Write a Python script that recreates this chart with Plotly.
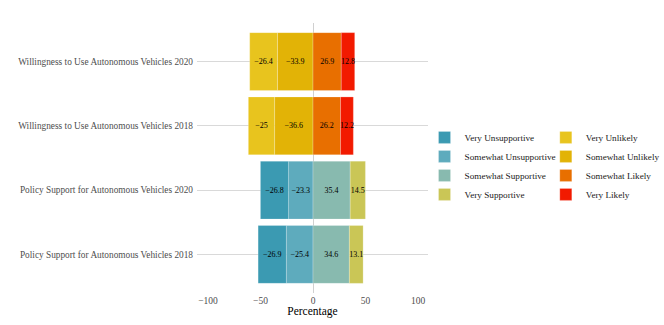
import plotly.graph_objects as go

# categories on the y axis (bottom to top)
rows = ['Policy Support for Autonomous Vehicles 2018',
        'Policy Support for Autonomous Vehicles 2020',
        'Willingness to Use Autonomous Vehicles 2018',
        'Willingness to Use Autonomous Vehicles 2020']
policy_rows = rows[:2]
will_rows = rows[2:]

# percentages (negative side = unsupportive / unlikely)
very_unsupportive = [-26.9, -26.8]
somewhat_unsupportive = [-25.4, -23.3]
somewhat_supportive = [34.6, 35.4]
very_supportive = [13.1, 14.5]

very_unlikely = [-25, -26.4]
somewhat_unlikely = [-36.6, -33.9]
somewhat_likely = [26.2, 26.9]
very_likely = [12.2, 12.8]

# trace order = stacking order (inner segment first), rank = legend order
series = [
    ('Somewhat Unsupportive', policy_rows, somewhat_unsupportive, '#5EABBD', 'legend', 2),
    ('Very Unsupportive', policy_rows, very_unsupportive, '#3B9AB2', 'legend', 1),
    ('Somewhat Supportive', policy_rows, somewhat_supportive, '#88BAAF', 'legend', 3),
    ('Very Supportive', policy_rows, very_supportive, '#CAC656', 'legend', 4),
    ('Somewhat Unlikely', will_rows, somewhat_unlikely, '#E2B306', 'legend2', 2),
    ('Very Unlikely', will_rows, very_unlikely, '#E8C41E', 'legend2', 1),
    ('Somewhat Likely', will_rows, somewhat_likely, '#E86F00', 'legend2', 3),
    ('Very Likely', will_rows, very_likely, '#F21A00', 'legend2', 4),
]

SERIF = 'Liberation Serif, Times New Roman, serif'

def fmt(v):
    return f'{v:g}'.replace('-', '\u2212')

fig = go.Figure()
for name, ys, xs, col, leg, rank in series:
    fig.add_trace(go.Bar(
        y=ys, x=xs, name=name, orientation='h',
        marker=dict(color=col, line=dict(color='rgba(255,255,255,0.45)', width=0.5)),
        width=0.9,
        text=[fmt(v) for v in xs],
        textposition='inside', insidetextanchor='middle',
        textangle=0, constraintext='none',
        textfont=dict(family=SERIF, size=8, color='black'),
        legend=leg, legendrank=rank,
    ))

legend_style = dict(font=dict(family=SERIF, size=9.2, color='#1a1a1a'),
                    bgcolor='rgba(0,0,0,0)', yanchor='top', xanchor='left',
                    traceorder='normal', tracegroupgap=0)

fig.update_layout(
    barmode='relative',
    width=664, height=325,
    margin=dict(l=197, r=236, t=23, b=32, autoexpand=False),
    plot_bgcolor='white', paper_bgcolor='white',
    font=dict(family=SERIF),
    legend=dict(x=0.985, y=0.63, **legend_style),
    legend2=dict(x=1.51, y=0.63, **legend_style),
    xaxis=dict(range=[-110.5, 109.5], showgrid=False, zeroline=True,
               zerolinecolor='#d0d0d0', zerolinewidth=1,
               tickvals=[-100, -50, 0, 50, 100],
               ticktext=['\u2212100', '\u221250', '0', '50', '100'],
               tickfont=dict(family=SERIF, size=9.5, color='#4d4d4d'),
               title=dict(text='Percentage', font=dict(family=SERIF, size=11.5, color='black'),
                          standoff=2)),
    yaxis=dict(categoryorder='array', categoryarray=rows, range=[-0.6, 3.6],
               showgrid=True, gridcolor='#d9d9d9', gridwidth=1,
               tickfont=dict(family=SERIF, size=9.3, color='#4d4d4d'),
               ticks='', ticklen=0, ticklabelstandoff=3),
)

# the page body has a default 8px margin; drop it so the figure sits at 0,0
fig.write_html('out.html', config={'displayModeBar': False},
               post_script="document.body.style.margin = '0';")
